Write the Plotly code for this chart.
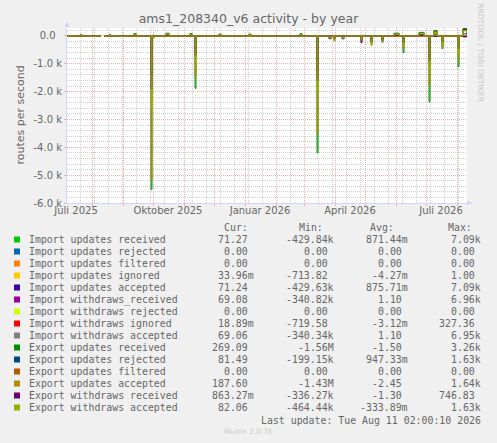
import plotly.graph_objects as go

# figure / plot area in pixels (munin style)
W, H = 497, 443
L, R, T, B = 67, 467, 28, 203

x_start, x_end = "2025-07-07", "2026-08-11"

# sample days (step line, value holds until the next day listed)
dates = [
    "2025-07-07", "2025-07-20", "2025-07-22", "2025-08-10", "2025-08-11", "2025-08-13", "2025-08-18", "2025-08-20",
    "2025-09-12", "2025-09-14", "2025-09-29", "2025-09-30", "2025-10-01", "2025-10-02", "2025-10-14", "2025-10-17",
    "2025-11-07", "2025-11-09", "2025-11-12", "2025-11-13", "2025-12-06", "2025-12-08", "2026-01-05", "2026-01-07",
    "2026-02-25", "2026-02-27", "2026-03-14", "2026-03-15", "2026-03-26", "2026-03-28", "2026-03-31", "2026-04-01",
    "2026-04-08", "2026-04-10", "2026-04-27", "2026-04-28", "2026-05-07", "2026-05-08", "2026-05-18", "2026-05-19",
    "2026-05-30", "2026-06-04", "2026-06-08", "2026-06-09", "2026-06-24", "2026-06-29", "2026-07-04", "2026-07-05",
    "2026-07-09", "2026-07-12", "2026-07-17", "2026-07-18", "2026-08-02", "2026-08-03", "2026-08-07", "2026-08-11",
]

N = None
imp_upd_received = [
    0, 40, 0, 0, N, 0, 30, 0,
    70, 0, -1400, 0, 0, 0, 80, 0,
    70, 0, -600, 0, 50, 0, 50, 0,
    60, 0, -1300, 0, 0, 0, -60, 0,
    0, 0, -80, 0, -120, 0, -80, 0,
    80, 0, -200, 0, 110, 0, -800, 0,
    170, 0, -150, 0, -400, 0, 230, 71.27,
]
imp_upd_rejected = [
    0, 0, 0, 0, N, 0, 0, 0,
    0, 0, 0, 0, 0, 0, 0, 0,
    0, 0, 0, 0, 0, 0, 0, 0,
    0, 0, 0, 0, 0, 0, 0, 0,
    0, 0, 0, 0, 0, 0, 0, 0,
    0, 0, 0, 0, 0, 0, 0, 0,
    0, 0, 0, 0, 0, 0, 0, 0,
]
imp_upd_filtered = [
    0, 0, 0, 0, N, 0, 0, 0,
    0, 0, 0, 0, 0, 0, 0, 0,
    0, 0, 0, 0, 0, 0, 0, 0,
    0, 0, 0, 0, 0, 0, 0, 0,
    0, 0, 0, 0, 0, 0, 0, 0,
    0, 0, 0, 0, 0, 0, 0, 0,
    0, 0, 0, 0, 0, 0, 0, 0,
]
imp_upd_ignored = [
    0, 0, 0, 0, N, 0, 0, 0,
    0, 0, -400, 0, 0, 0, 0, 0,
    0, 0, -150, 0, 0, 0, 0, 0,
    0, 0, -300, 0, 0, 0, 0, 0,
    0, 0, 0, 0, 0, 0, 0, 0,
    0, 0, 0, 0, 0, 0, -200, 0,
    0, 0, 0, 0, -100, 0, 0, 0.03,
]
imp_upd_accepted = [
    0, 40, 0, 0, N, 0, 30, 0,
    70, 0, -1380, 0, 0, 0, 80, 0,
    70, 0, -590, 0, 50, 0, 50, 0,
    60, 0, -1290, 0, 0, 0, -60, 0,
    0, 0, -80, 0, -120, 0, -80, 0,
    80, 0, -200, 0, 110, 0, -790, 0,
    170, 0, -150, 0, -400, 0, 230, 71.24,
]
imp_wd_received = [
    0, 20, 0, 0, N, 0, 20, 0,
    40, 0, -1100, 0, -40, 0, 50, 0,
    40, 0, -500, 0, 60, 0, 30, 0,
    50, 0, -1000, 0, -60, 0, -80, 0,
    -100, 0, -150, 0, -200, 0, -150, 0,
    60, 0, -150, 0, 80, 0, -600, 0,
    120, 0, -250, 0, -300, 0, -30, 69.08,
]
imp_wd_rejected = [
    0, 0, 0, 0, N, 0, 0, 0,
    0, 0, 0, 0, 0, 0, 0, 0,
    0, 0, 0, 0, 0, 0, 0, 0,
    0, 0, 0, 0, 0, 0, 0, 0,
    0, 0, 0, 0, 0, 0, 0, 0,
    0, 0, 0, 0, 0, 0, 0, 0,
    0, 0, 0, 0, 0, 0, 0, 0,
]
imp_wd_ignored = [
    0, 0, 0, 0, N, 0, 0, 0,
    0, 0, -350, 0, 0, 0, 0, 0,
    0, 0, -120, 0, 0, 0, 0, 0,
    0, 0, -200, 0, 0, 0, 0, 0,
    0, 0, 0, 0, 0, 0, 0, 0,
    0, 0, 0, 0, 0, 0, -100, 0,
    0, 0, 0, 0, 0, 0, 0, 0.02,
]
imp_wd_accepted = [
    0, 20, 0, 0, N, 0, 20, 0,
    40, 0, -1090, 0, -40, 0, 50, 0,
    40, 0, -500, 0, 60, 0, 30, 0,
    50, 0, -990, 0, -60, 0, -80, 0,
    -100, 0, -200, 0, -200, 0, -240, 0,
    60, 0, -150, 0, 80, 0, -600, 0,
    120, 0, -250, 0, -300, 0, -30, 69.06,
]
exp_upd_received = [
    0, 50, 0, 0, N, 0, 40, 0,
    90, 0, -5510, 0, -50, 0, 100, 0,
    90, 0, -1880, 0, 60, 0, 70, 0,
    80, 0, -4200, 0, -50, 0, -120, 0,
    -40, 0, -150, 0, -250, 0, -150, 0,
    100, 0, -600, 0, 130, 0, -2360, 0,
    200, 0, -450, 0, -1100, 0, 270, 269.09,
]
exp_upd_rejected = [
    0, 10, 0, 0, N, 0, 10, 0,
    20, 0, -600, 0, 0, 0, 30, 0,
    20, 0, -300, 0, 20, 0, 20, 0,
    20, 0, -500, 0, 0, 0, -40, 0,
    0, 0, -60, 0, -80, 0, -60, 0,
    30, 0, -80, 0, 40, 0, -300, 0,
    60, 0, -100, 0, -150, 0, 80, 81.49,
]
exp_upd_filtered = [
    0, 0, 0, 0, N, 0, 0, 0,
    0, 0, 0, 0, 0, 0, 0, 0,
    0, 0, 0, 0, 0, 0, 0, 0,
    0, 0, 0, 0, 0, 0, 0, 0,
    0, 0, 0, 0, 0, 0, 0, 0,
    0, 0, 0, 0, 0, 0, 0, 0,
    0, 0, 0, 0, 0, 0, 0, 0,
]
exp_upd_accepted = [
    0, 30, 0, 0, N, 0, 30, 0,
    60, 0, -5150, 0, -70, 0, 70, 0,
    60, 0, -1450, 0, 40, 0, 50, 0,
    50, 0, -3500, 0, -40, 0, -180, 0,
    -30, 0, -120, 0, -340, 0, -150, 0,
    70, 0, -450, 0, 100, 0, -1760, 0,
    150, 0, -380, 0, -860, 0, 200, 187.60,
]
exp_wd_received = [
    0, 10, 0, 0, N, 0, 10, 0,
    20, 0, -1900, 0, -30, 0, 30, 0,
    20, 0, -700, 0, 20, 0, 20, 0,
    20, 0, -1600, 0, -100, 0, -100, 0,
    -50, 0, -240, 0, -200, 0, -180, 0,
    20, 0, -250, 0, 30, 0, -900, 0,
    -20, 0, -200, 0, -450, 0, -20, 0.86,
]
exp_wd_accepted = [
    0, 30, 0, 0, N, 0, 20, 0,
    50, 0, -2600, 0, -60, 0, 60, 0,
    50, 0, -900, 0, 40, 0, 40, 0,
    50, 0, -2000, 0, -60, 0, -150, 0,
    -50, 0, -150, 0, -300, 0, -200, 0,
    60, 0, -300, 0, 90, 0, -1200, 0,
    120, 0, -300, 0, -600, 0, 180, 82.06,
]

labels = [
    "Import updates received", "Import updates rejected", "Import updates filtered",
    "Import updates ignored", "Import updates accepted", "Import withdraws_received",
    "Import withdraws rejected", "Import withdraws ignored", "Import withdraws accepted",
    "Export updates received", "Export updates rejected", "Export updates filtered",
    "Export updates accepted", "Export withdraws received", "Export withdraws accepted",
]
colors = [
    "#00CC00", "#0066B3", "#FF8000", "#FFCC00", "#330099", "#990099", "#CCFF00", "#FF0000",
    "#808080", "#008F00", "#00487D", "#B35A00", "#B38F00", "#6B006B", "#8FB300",
]
values = [
    imp_upd_received, imp_upd_rejected, imp_upd_filtered, imp_upd_ignored, imp_upd_accepted,
    imp_wd_received, imp_wd_rejected, imp_wd_ignored, imp_wd_accepted,
    exp_upd_received, exp_upd_rejected, exp_upd_filtered, exp_upd_accepted,
    exp_wd_received, exp_wd_accepted,
]

cur_vals = ["71.27", "0.00", "0.00", "33.96m", "71.24", "69.08", "0.00", "18.89m", "69.06",
            "269.09", "81.49", "0.00", "187.60", "863.27m", "82.06"]
min_vals = ["-429.84k", "0.00", "0.00", "-713.82", "-429.63k", "-340.82k", "0.00", "-719.58", "-340.34k",
            "-1.56M", "-199.15k", "0.00", "-1.43M", "-336.27k", "-464.44k"]
avg_vals = ["871.44m", "0.00", "0.00", "-4.27m", "875.71m", "1.10", "0.00", "-3.12m", "1.10",
            "-1.50", "947.33m", "0.00", "-2.45", "-1.30", "-333.89m"]
max_vals = ["7.09k", "0.00", "0.00", "1.00", "7.09k", "6.96k", "0.00", "327.36", "6.95k",
            "3.26k", "1.63k", "0.00", "1.64k", "746.83", "1.63k"]

y_ticks = [0, -1000, -2000, -3000, -4000, -5000, -6000]
y_tick_text = ["0.0\u00a0\u00a0", "-1.0 k", "-2.0 k", "-3.0 k", "-4.0 k", "-5.0 k", "-6.0 k"]

month_starts = ["2025-08-01", "2025-09-01", "2025-10-01", "2025-11-01", "2025-12-01", "2026-01-01",
                "2026-02-01", "2026-03-01", "2026-04-01", "2026-05-01", "2026-06-01", "2026-07-01", "2026-08-01"]
biweekly = ["2025-07-20", "2025-08-03", "2025-08-17", "2025-08-31", "2025-09-14", "2025-09-28", "2025-10-12",
            "2025-10-26", "2025-11-09", "2025-11-23", "2025-12-07", "2025-12-21", "2026-01-04", "2026-01-18",
            "2026-02-01", "2026-02-15", "2026-03-01", "2026-03-15", "2026-03-29", "2026-04-12", "2026-04-26",
            "2026-05-10", "2026-05-24", "2026-06-07", "2026-06-21", "2026-07-05", "2026-07-19", "2026-08-02"]
x_label_dates = ["2025-07-16", "2025-10-16", "2026-01-16", "2026-04-16", "2026-07-16"]
x_label_text = ["Juli 2025", "Oktober 2025", "Januar 2026", "April 2026", "Juli 2026"]

FONT = "DejaVu Sans"
MONO = "DejaVu Sans Mono"
TXT = "#666666"
RED = "#EDB0B0"
GRAY = "#CFCFCF"
AXIS = "#CFD6F8"


def px(x):
    return (x - L) / (R - L)


def py(y):
    return (B - y) / (B - T)


fig = go.Figure()
for name, col, vals in zip(labels, colors, values):
    fig.add_trace(go.Scatter(x=dates, y=vals, name=name, mode="lines", line_shape="hv",
                             line=dict(color=col, width=1), connectgaps=False, showlegend=False))
# empty trace so the label axis (x2) gets drawn
fig.add_trace(go.Scatter(x=[], y=[], xaxis="x2", yaxis="y", showlegend=False, hoverinfo="skip"))

ann = []
ann.append(dict(text="routes per second", x=px(11), y=py(115), textangle=-90,
                font=dict(family=FONT, size=11, color=TXT)))
ann.append(dict(text="RRDTOOL / TOBI OETIKER", x=px(487.5), y=py(53), textangle=90,
                font=dict(family=FONT, size=7.7, color="#C8C8C8")))

# legend block
for hdr, xl in zip(["Cur:", "Min:", "Avg:", "Max:"], [221.7, 296.7, 367.7, 445.7]):
    ann.append(dict(text=hdr, x=px(xl), y=py(227), xanchor="left",
                    font=dict(family=MONO, size=9.9, color=TXT)))

shapes = []
for i, (name, col) in enumerate(zip(labels, colors)):
    yy = 239.5 + 12 * i
    shapes.append(dict(type="rect", xref="paper", yref="paper", x0=px(14), x1=px(20),
                       y0=py(yy + 3), y1=py(yy - 3), fillcolor=col, line=dict(width=0)))
    ann.append(dict(text=name, x=px(26.7), y=py(yy), xanchor="left",
                    font=dict(family=MONO, size=9.9, color=TXT)))
    for col_vals, xr in zip([cur_vals, min_vals, avg_vals, max_vals], [256, 335.5, 409.7, 482.7]):
        s = col_vals[i]
        if s[-1].isdigit():
            s = s + "\u00a0"
        ann.append(dict(text=s, x=px(xr), y=py(yy), xanchor="right",
                        font=dict(family=MONO, size=9.9, color=TXT)))

ann.append(dict(text="Last update:\u00a0Tue Aug 11 02:00:10 2026", x=px(482.7), y=py(420), xanchor="right",
                font=dict(family=MONO, size=9.9, color=TXT)))
ann.append(dict(text="Munin 2.0.76", x=px(248), y=py(431.7),
                font=dict(family=FONT, size=7.5, color="#CCCCCC")))
for a in ann:
    a.update(xref="paper", yref="paper", showarrow=False)
    a.setdefault("yanchor", "middle")

# axis arrows
shapes.append(dict(type="path", xref="paper", yref="paper", fillcolor=AXIS, line=dict(width=0),
                   path=f"M {px(64.5)} {py(27)} L {px(69.5)} {py(27)} L {px(67)} {py(21.5)} Z"))
shapes.append(dict(type="path", xref="paper", yref="paper", fillcolor=AXIS, line=dict(width=0),
                   path=f"M {px(467)} {py(200.5)} L {px(467)} {py(205.5)} L {px(472.5)} {py(203)} Z"))

fig.update_layout(
    width=W, height=H, autosize=False,
    margin=dict(l=L, r=W - R, t=T, b=H - B, pad=0),
    paper_bgcolor="#F0F0F0", plot_bgcolor="#FFFFFF",
    title=dict(text="ams1_208340_v6 activity - by year", x=0.5, xanchor="center",
               y=1 - 18.5 / H, yref="container", yanchor="middle",
               font=dict(family=FONT, size=12.5, color=TXT)),
    font=dict(family=FONT, size=10, color=TXT),
    annotations=ann, shapes=shapes,
    xaxis=dict(type="date", range=[x_start, x_end], tickmode="array", tickvals=month_starts,
               showticklabels=False, showgrid=True, gridcolor=RED, griddash="1px,1px", gridwidth=1,
               ticks="outside", ticklen=2, tickcolor=RED, zeroline=False,
               showline=True, linecolor=AXIS, linewidth=1,
               minor=dict(tickmode="array", tickvals=biweekly, showgrid=True, gridcolor=GRAY,
                          griddash="1px,1px", ticks="")),
    xaxis2=dict(type="date", range=[x_start, x_end], overlaying="x", side="bottom",
                tickmode="array", tickvals=x_label_dates, ticktext=x_label_text,
                showgrid=False, zeroline=False, showline=False, ticks="",
                tickfont=dict(family=FONT, size=10, color=TXT)),
    yaxis=dict(range=[-6000, 287], tickmode="array", tickvals=y_ticks, ticktext=y_tick_text,
               showgrid=True, gridcolor=RED, griddash="1px,1px", gridwidth=1, zeroline=False,
               ticks="outside", ticklen=2, tickcolor=RED,
               showline=True, linecolor=AXIS, linewidth=1,
               tickfont=dict(family=FONT, size=10, color=TXT),
               minor=dict(dtick=200, tick0=0, showgrid=True, gridcolor=GRAY, griddash="1px,1px", ticks="")),
)

fig.write_html("out.html", config={"displayModeBar": False},
               post_script="document.body.style.margin='0';document.body.style.background='#F0F0F0';")
